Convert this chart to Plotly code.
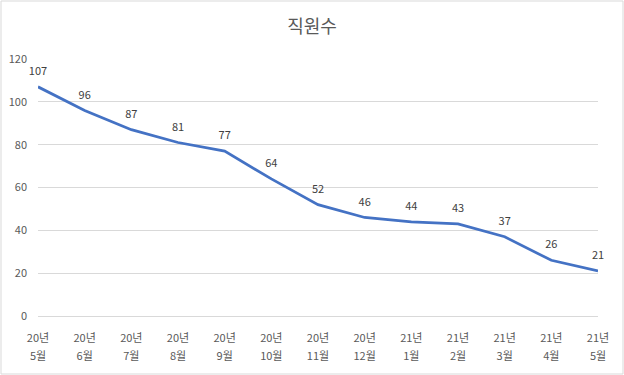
import plotly.graph_objects as go

years = ["20년", "20년", "20년", "20년", "20년", "20년", "20년", "20년", "21년", "21년", "21년", "21년", "21년"]
months = ["5월", "6월", "7월", "8월", "9월", "10월", "11월", "12월", "1월", "2월", "3월", "4월", "5월"]
values = [107, 96, 87, 81, 77, 64, 52, 46, 44, 43, 37, 26, 21]
y_ticks = [0, 20, 40, 60, 80, 100, 120]

FONT = "Noto Sans CJK KR, Malgun Gothic, sans-serif"
GREY = "#595959"
x = list(range(len(values)))

L, R, T, B = 38, 26, 59, 59
W, H = 624, 375
PW, PH = W - L - R, H - T - B

fig = go.Figure()
fig.add_trace(go.Scatter(
    x=x, y=values, mode="lines+markers+text",
    text=[str(v) for v in values], textposition="top center",
    textfont=dict(size=11, color="#404040", family=FONT),
    line=dict(color="#4472C4", width=2.75),
    marker=dict(size=13, color="rgba(0,0,0,0)"),
    cliponaxis=False, showlegend=False, hoverinfo="x+y",
))
fig.add_trace(go.Scatter(x=x, y=values, xaxis="x2", mode="none", showlegend=False, hoverinfo="skip"))

fig.update_layout(
    width=W, height=H,
    margin=dict(l=L, r=R, t=T, b=B, autoexpand=False),
    paper_bgcolor="white", plot_bgcolor="white",
    font=dict(family=FONT, color=GREY, size=11),
    title=dict(text="직원수", x=0.5, xanchor="center", y=1 - 27 / H, yanchor="middle",
               font=dict(size=18, color=GREY, family=FONT)),
    xaxis=dict(range=[0, 12], tickvals=x, ticktext=years, showgrid=False, zeroline=False,
               showline=True, linecolor="#D9D9D9", linewidth=1,
               ticks="", ticklabelstandoff=12, automargin=False,
               tickfont=dict(size=11, color=GREY)),
    xaxis2=dict(overlaying="x", side="bottom", range=[0, 12], tickvals=x, ticktext=months,
                showgrid=False, zeroline=False, showline=False, ticks="", ticklabelstandoff=32,
                automargin=False, tickfont=dict(size=11, color=GREY)),
    yaxis=dict(range=[0, 120], tickvals=y_ticks, showgrid=True, gridcolor="#D9D9D9", gridwidth=1,
               zeroline=False, showline=False, ticks="", ticklabelstandoff=10, automargin=False,
               tickfont=dict(size=11, color=GREY)),
)
fig.add_shape(type="rect", xref="paper", yref="paper",
              x0=(-L + 1) / PW, x1=1 + (R - 1) / PW, y0=(-B + 1) / PH, y1=1 + (T - 1) / PH,
              line=dict(color="#D9D9D9", width=1))

fig.write_html("out.html", config={"displayModeBar": False},
               post_script="document.body.style.margin='0';")
